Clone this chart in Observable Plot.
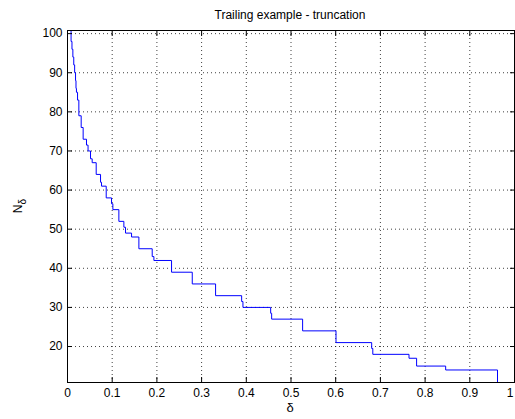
<!DOCTYPE html>
<html>
<head>
<meta charset="utf-8">
<script src="https://cdn.jsdelivr.net/npm/d3@7"></script>
<script src="https://cdn.jsdelivr.net/npm/@observablehq/plot@0.6"></script>
<style>
  html, body { margin: 0; padding: 0; background: #fff; }
  #chart svg { display: block; }
</style>
</head>
<body>
<div id="chart"></div>
<script>
// Step curve: N_delta holds from each delta break until the next one.
const deltaBreaks = [
  0.006, 0.008, 0.010, 0.012, 0.014, 0.016, 0.018, 0.019, 0.020, 0.0225,
  0.0254, 0.0306, 0.035, 0.0425, 0.046, 0.0515, 0.0552, 0.0642, 0.0739, 0.0761,
  0.0866, 0.0985, 0.1015, 0.1149, 0.1261, 0.1298, 0.1433, 0.1597, 0.1895, 0.1933,
  0.2328, 0.2791, 0.3313, 0.3896, 0.3925, 0.4545, 0.4567, 0.526, 0.6007, 0.6805,
  0.683, 0.764, 0.781, 0.846, 0.962
];
const nDelta = [
  100.8, 98, 96, 94, 92, 90, 88, 86, 85, 83,
  79, 76, 73, 71.5, 70, 68, 67, 64, 62, 61,
  58, 56.5, 55, 52, 50.5, 49, 48, 45, 43, 42,
  39, 36, 33, 31.5, 30, 28.5, 27, 24, 21, 19.5,
  18, 17, 15, 14, 10.8
];

const xTicks = [0, 0.1, 0.2, 0.3, 0.4, 0.5, 0.6, 0.7, 0.8, 0.9, 1];
const xTickLabels = ["0", "0.1", "0.2", "0.3", "0.4", "0.5", "0.6", "0.7", "0.8", "0.9", "1"];
const yTicks = [20, 30, 40, 50, 60, 70, 80, 90, 100];

const titleText = "Trailing example - truncation";
const xLabelText = "δ";
const yLabelMain = "N";
const yLabelSub = "δ";

const rows = deltaBreaks.map((d, i) => ({delta: d, n: nDelta[i]}));
const xFormat = (d) => xTickLabels[xTicks.indexOf(d)];
const blank = () => "";

const dotted = {stroke: "#000", strokeOpacity: 0.75, strokeDasharray: "1,3"};

const chart = Plot.plot({
  width: 515,
  height: 419,
  marginLeft: 67,
  marginRight: 1,
  marginTop: 30,
  marginBottom: 37,
  style: {
    fontFamily: "'Liberation Sans', Arial, sans-serif",
    fontSize: "12px",
    color: "#000",
    background: "#fff"
  },
  x: {domain: [0, 1]},
  y: {domain: [10.8, 100.8]},
  marks: [
    Plot.gridX(xTicks, dotted),
    Plot.gridY(yTicks, dotted),
    Plot.line(rows, {
      x: "delta",
      y: "n",
      curve: "step-after",
      stroke: "#0000ff",
      strokeWidth: 1,
      clip: true
    }),
    Plot.frame({stroke: "#000"}),
    Plot.axisX(xTicks, {anchor: "bottom", tickSize: -5, tickPadding: 11, tickFormat: xFormat, label: null}),
    Plot.axisX(xTicks, {anchor: "top", tickSize: -5, tickFormat: blank, label: null}),
    Plot.axisY(yTicks, {anchor: "left", tickSize: -5, tickPadding: 10, label: null}),
    Plot.axisY(yTicks, {anchor: "right", tickSize: -5, tickFormat: blank, label: null})
  ]
});

const svg = d3.select(chart);
const font = "'Liberation Sans', Arial, sans-serif";

// The last x tick label sits on the right edge: right-align it so it stays inside.
svg.selectAll("text")
  .filter(function () { return this.textContent === "1"; })
  .attr("text-anchor", "end")
  .attr("dx", -1);

svg.append("text")
  .attr("x", 290)
  .attr("y", 19)
  .attr("text-anchor", "middle")
  .attr("font-family", font)
  .attr("font-size", 12)
  .attr("fill", "#000")
  .text(titleText);

svg.append("text")
  .attr("x", 290)
  .attr("y", 412)
  .attr("text-anchor", "middle")
  .attr("font-family", font)
  .attr("font-size", 13)
  .attr("fill", "#000")
  .text(xLabelText);

const yLabel = svg.append("text")
  .attr("transform", "translate(22,206) rotate(-90)")
  .attr("text-anchor", "middle")
  .attr("font-family", font)
  .attr("font-size", 12)
  .attr("fill", "#000");
yLabel.append("tspan").text(yLabelMain);
yLabel.append("tspan").attr("font-size", 10).attr("dy", 4).text(yLabelSub);

document.getElementById("chart").appendChild(chart);
</script>
</body>
</html>
